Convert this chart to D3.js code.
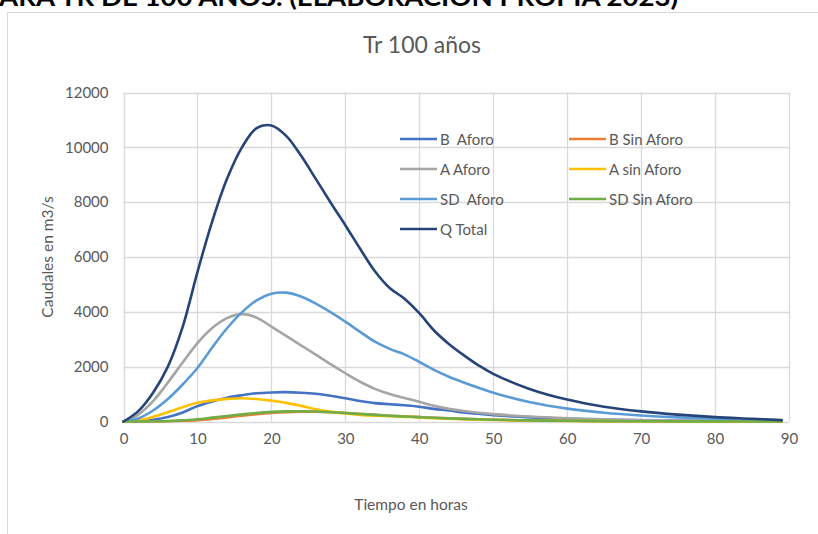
<!DOCTYPE html>
<html>
<head>
<meta charset="utf-8">
<script src="https://cdn.jsdelivr.net/npm/d3@7"></script>
<style>
  html, body { margin: 0; padding: 0; background: #ffffff; }
  svg { display: block; }
  text { font-family: Lato, "Open Sans", sans-serif; }
</style>
</head>
<body>
<svg id="chart" width="818" height="534"></svg>
<script>
// ---------- data ----------
const hours = [0,2,4,6,8,10,12,14,16,18,20,22,24,26,28,30,32,34,36,38,40,42,44,46,48,50,55,60,65,70,75,80,85,89];

const bAforo    = [0,20,60,160,330,560,730,870,960,1030,1060,1070,1050,1010,940,850,750,670,630,590,540,460,400,330,280,230,150,100,65,45,30,20,12,8];
const bSinAforo = [0,0,3,10,25,50,95,150,210,265,310,340,355,355,340,310,275,240,210,185,160,135,115,95,80,65,40,25,15,10,6,4,2,1];
const aAforo    = [0,250,740,1420,2150,2860,3410,3770,3915,3790,3460,3120,2780,2440,2090,1760,1450,1190,1000,860,720,570,460,380,320,270,180,120,80,55,35,25,15,10];
const aSinAforo = [0,40,170,340,520,680,770,825,850,820,760,680,570,450,360,290,240,210,190,170,150,120,100,80,65,55,35,20,12,8,5,3,2,1];
const sdAforo   = [0,110,400,820,1350,1950,2700,3400,3980,4420,4660,4700,4560,4300,3990,3640,3270,2910,2650,2450,2170,1880,1630,1420,1230,1050,700,470,320,220,150,100,65,40];
const sdSinAforo= [0,2,8,20,45,80,140,200,260,310,350,370,375,365,340,310,275,240,210,185,160,135,115,95,80,65,40,25,15,10,6,4,2,1];
const qTotal    = [0,380,1050,2000,3450,5450,7300,8850,9990,10700,10800,10420,9700,8850,7990,7160,6300,5480,4870,4480,3950,3320,2830,2420,2050,1740,1180,800,540,370,250,160,100,50];

const seriesNames = ["B  Aforo","B Sin Aforo","A Aforo","A sin Aforo","SD  Aforo","SD Sin Aforo","Q Total"];
const seriesValues = [bAforo,bSinAforo,aAforo,aSinAforo,sdAforo,sdSinAforo,qTotal];
const seriesColors = ["#4472C4","#ED7D31","#A5A5A5","#FFC000","#5B9BD5","#70AD47","#264478"];

const xTicks = [0,10,20,30,40,50,60,70,80,90];
const yTicks = [0,2000,4000,6000,8000,10000,12000];

const headerText = "ARA TR DE 100 AÑOS. (ELABORACIÓN PROPIA 2023)";
const chartTitle = "Tr 100 años";
const xTitle = "Tiempo en horas";
const yTitle = "Caudales en m3/s";

// ---------- layout ----------
const svg = d3.select("#chart");
const plot = {left: 123.5, right: 789, top: 92.5, bottom: 421.5};
const x = d3.scaleLinear().domain([0, 90]).range([plot.left, plot.right]);
const y = d3.scaleLinear().domain([0, 12000]).range([plot.bottom, plot.top]);
const textGray = "#595959";
const gridGray = "#d9d9d9";

// header (cut off at top, as in the reference)
svg.append("text")
  .attr("x", -1).attr("y", 6)
  .attr("font-size", 24).attr("font-weight", "bold").attr("fill", "#000")
  .attr("textLength", 679).attr("lengthAdjust", "spacingAndGlyphs")
  .text(headerText);

// chart area border
svg.append("rect")
  .attr("x", 7.5).attr("y", 12.5).attr("width", 900).attr("height", 600)
  .attr("fill", "#fff").attr("stroke", gridGray).attr("stroke-width", 1);

// title
svg.append("text")
  .attr("x", 422).attr("y", 53).attr("text-anchor", "middle")
  .attr("font-size", 23).attr("fill", textGray)
  .text(chartTitle);

// grid
const grid = svg.append("g");
grid.selectAll("line.h").data(yTicks).join("line")
  .attr("x1", plot.left).attr("x2", plot.right)
  .attr("y1", d => Math.round(y(d)) + 0.5).attr("y2", d => Math.round(y(d)) + 0.5)
  .attr("stroke", gridGray).attr("stroke-width", 1.3);
grid.selectAll("line.v").data(xTicks).join("line")
  .attr("y1", plot.top).attr("y2", plot.bottom)
  .attr("x1", d => Math.round(x(d)) + 0.5).attr("x2", d => Math.round(x(d)) + 0.5)
  .attr("stroke", gridGray).attr("stroke-width", 1.3);

// axes via d3
const xAxis = d3.axisBottom(x).tickValues(xTicks).tickSize(0).tickPadding(12);
const yAxis = d3.axisLeft(y).tickValues(yTicks).tickSize(0).tickPadding(15).tickFormat(d3.format("d"));
const gx = svg.append("g").attr("transform", `translate(0,${plot.bottom})`).call(xAxis);
const gy = svg.append("g").attr("transform", `translate(${plot.left},0)`).call(yAxis);
[gx, gy].forEach(g => {
  g.select(".domain").remove();
  g.selectAll("text").attr("font-family", "Lato, sans-serif").attr("font-size", 15).attr("fill", textGray);
});

// axis titles
svg.append("text")
  .attr("x", 411).attr("y", 510).attr("text-anchor", "middle")
  .attr("font-size", 15.5).attr("fill", textGray).text(xTitle);
svg.append("text")
  .attr("transform", "translate(53,257) rotate(-90)").attr("text-anchor", "middle")
  .attr("font-size", 15.5).attr("fill", textGray).text(yTitle);

// lines
const line = d3.line()
  .x((d, i) => x(hours[i]))
  .y(d => y(d))
  .curve(d3.curveCatmullRom.alpha(0.5));
svg.append("g").selectAll("path").data(seriesValues).join("path")
  .attr("d", d => line(d))
  .attr("fill", "none")
  .attr("stroke", (d, i) => seriesColors[i])
  .attr("stroke-width", 2.6)
  .attr("stroke-linejoin", "round").attr("stroke-linecap", "round");

// legend
const legendPos = [
  [400, 139], [569, 139],
  [400, 169], [569, 169],
  [400, 199], [569, 199],
  [400, 229]
];
const lg = svg.append("g");
seriesNames.forEach((name, i) => {
  const [lx, ly] = legendPos[i];
  lg.append("line").attr("x1", lx).attr("x2", lx + 37).attr("y1", ly).attr("y2", ly)
    .attr("stroke", seriesColors[i]).attr("stroke-width", 2.6);
  lg.append("text").attr("x", lx + 40).attr("y", ly + 5.5)
    .attr("font-size", 15).attr("fill", textGray)
    .style("white-space", "pre").text(name);
});
</script>
</body>
</html>
